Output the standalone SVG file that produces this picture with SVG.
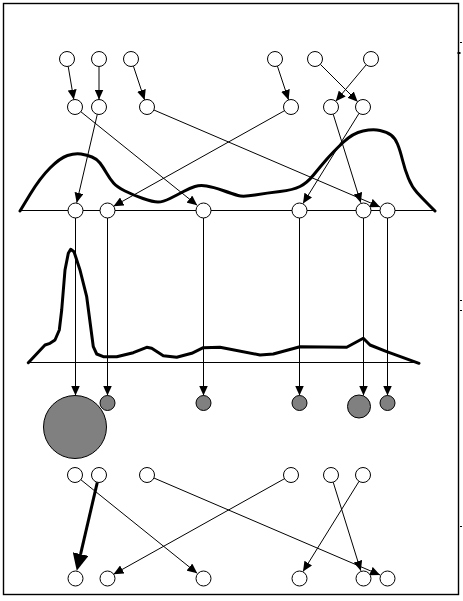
<svg xmlns="http://www.w3.org/2000/svg" width="463" height="601" viewBox="0 0 463 601">
<style>
.n{fill:#fff;stroke:#000;stroke-width:1}
.g{fill:#808080;stroke:#000;stroke-width:1}
.e{fill:none;stroke:#000;stroke-width:1;marker-end:url(#ah)}
.eb{fill:none;stroke:#000;stroke-width:3;marker-end:url(#ahb)}
.base{fill:none;stroke:#000;stroke-width:1}
.curve{fill:none;stroke:#000;stroke-width:3;stroke-linejoin:round;stroke-linecap:round}
.tick{stroke:#000;stroke-width:1}
</style>
<defs>
<marker id="ah" markerUnits="userSpaceOnUse" markerWidth="10" markerHeight="9" refX="10" refY="4.5" orient="auto"><path d="M0,0 L10,4.5 L0,9 z" fill="#000"/></marker>
<marker id="ahb" markerUnits="userSpaceOnUse" markerWidth="17" markerHeight="16" refX="0" refY="8" orient="auto"><path d="M0,0 L17,8 L0,16 z" fill="#000"/></marker>
</defs>
<rect x="3.5" y="3.5" width="455" height="591" fill="#fff" stroke="#000" stroke-width="1.4"/>
<g id="marks">
<line class="tick" x1="460" y1="42.5" x2="462" y2="42.5"/>
<rect x="457.5" y="52" width="3" height="2" fill="#000"/>
<line class="tick" x1="460" y1="300.5" x2="462" y2="300.5"/>
<line class="tick" x1="460" y1="310.5" x2="462" y2="310.5"/>
<line class="tick" x1="460" y1="526.5" x2="462" y2="526.5"/>
</g>
<g id="plots">
<line class="base" x1="20" y1="210.5" x2="435" y2="210.5"/>
<path class="curve" d="M20,211 L30,194.5 Q40,178 50,168 Q60,158 67.5,155.5 Q75,153 81,154 Q87,155 92,157 Q97,159 100,163 Q103,167 106.5,173 Q110,179 113.5,183 Q117,187 125,191 Q133,195 143,198.5 Q153,202 158,202 Q163,202 170,198.5 Q177,195 183.5,191.5 Q190,188 195,186.5 Q200,185 206.5,186 Q213,187 223,190.5 Q233,194 238,195.5 Q243,197 255,195 Q267,193 280,191.5 Q293,190 300,186.5 Q307,183 313.5,175 Q320,167 326.5,159.5 Q333,152 343,142.5 Q353,133 363,131 Q373,129 380,130.5 Q387,132 391,135 Q395,138 397.5,144 Q400,150 402.5,160 Q405,170 408.5,178.5 Q412,187 417,192.5 Q422,198 428.5,204.5 L435,211"/>
<line class="base" x1="28" y1="362.5" x2="419" y2="362.5"/>
<polyline class="curve" points="28.3,362.7 45,345 50,343.3 55,340 59.3,330 61.7,310 65,270 68.3,253.3 70.7,249.3 74,251.7 80,270 86.7,296.7 93.3,346.7 96.7,354 103.3,356.7 116.7,356.7 133.3,352.7 146.7,347.3 151.7,348.3 163.3,355.7 176.7,357.3 191.7,353.3 203.3,347.7 220,347.3 260,355 273.3,354 300,346.7 346.7,347.3 363.3,338.3 370,345 386.7,351.7 419,363.3"/>
</g>
<g id="connectors">
<line class="e" x1="68.2" y1="66.4" x2="73.8" y2="99.6"/>
<line class="e" x1="99" y1="66.5" x2="99" y2="99.5"/>
<line class="e" x1="133.4" y1="66.1" x2="144.6" y2="99.9"/>
<line class="e" x1="277.4" y1="66.1" x2="288.6" y2="99.9"/>
<line class="e" x1="320.3" y1="64.3" x2="357.7" y2="101.7"/>
<line class="e" x1="366.2" y1="64.8" x2="335.8" y2="101.2"/>
<line class="e" x1="80.8" y1="111.7" x2="197.2" y2="205.3"/>
<line class="e" x1="97.3" y1="114.3" x2="76.7" y2="202.7"/>
<line class="e" x1="153.9" y1="110" x2="380.1" y2="207"/>
<line class="e" x1="284.5" y1="110.7" x2="113.5" y2="206.3"/>
<line class="e" x1="333.2" y1="114.2" x2="360.8" y2="202.8"/>
<line class="e" x1="359" y1="113.4" x2="303" y2="203.6"/>
<line class="e" x1="75.5" y1="217.5" x2="75.5" y2="395.5"/>
<line class="e" x1="107.5" y1="217.5" x2="107.5" y2="395.5"/>
<line class="e" x1="203.5" y1="217.5" x2="203.5" y2="395.5"/>
<line class="e" x1="299.5" y1="217.5" x2="299.5" y2="395.5"/>
<line class="e" x1="363.5" y1="217.5" x2="363.5" y2="395.5"/>
<line class="e" x1="387.5" y1="217.5" x2="387.5" y2="395.5"/>
<line class="e" x1="80.8" y1="479.7" x2="197.2" y2="573.3"/>
<line class="eb" x1="97.3" y1="482.3" x2="80.6" y2="554.1"/>
<line class="e" x1="153.9" y1="478" x2="380.1" y2="575"/>
<line class="e" x1="284.5" y1="478.7" x2="113.5" y2="574.3"/>
<line class="e" x1="333.2" y1="482.2" x2="360.8" y2="570.8"/>
<line class="e" x1="359" y1="481.4" x2="303" y2="571.6"/>
</g>
<g id="a1"><circle class="n" cx="67" cy="59" r="7.5"/></g>
<g id="a2"><circle class="n" cx="99" cy="59" r="7.5"/></g>
<g id="a3"><circle class="n" cx="131" cy="59" r="7.5"/></g>
<g id="a4"><circle class="n" cx="275" cy="59" r="7.5"/></g>
<g id="a5"><circle class="n" cx="315" cy="59" r="7.5"/></g>
<g id="a6"><circle class="n" cx="371" cy="59" r="7.5"/></g>
<g id="b1"><circle class="n" cx="75" cy="107" r="7.5"/></g>
<g id="b2"><circle class="n" cx="99" cy="107" r="7.5"/></g>
<g id="b3"><circle class="n" cx="147" cy="107" r="7.5"/></g>
<g id="b4"><circle class="n" cx="291" cy="107" r="7.5"/></g>
<g id="b5"><circle class="n" cx="331" cy="107" r="7.5"/></g>
<g id="b6"><circle class="n" cx="363" cy="107" r="7.5"/></g>
<g id="c1"><circle class="n" cx="75.5" cy="210.5" r="7.5"/></g>
<g id="c2"><circle class="n" cx="107.5" cy="210.5" r="7.5"/></g>
<g id="c3"><circle class="n" cx="203.5" cy="210.5" r="7.5"/></g>
<g id="c4"><circle class="n" cx="299.5" cy="210.5" r="7.5"/></g>
<g id="c5"><circle class="n" cx="363.5" cy="210.5" r="7.5"/></g>
<g id="c6"><circle class="n" cx="387.5" cy="210.5" r="7.5"/></g>
<g id="d1"><circle class="g" cx="75" cy="427" r="31.5"/></g>
<g id="d2"><circle class="g" cx="107.5" cy="403" r="7.5"/></g>
<g id="d3"><circle class="g" cx="203.5" cy="403" r="7.5"/></g>
<g id="d4"><circle class="g" cx="299.5" cy="403" r="7.5"/></g>
<g id="d5"><circle class="g" cx="359" cy="406.5" r="11.5"/></g>
<g id="d6"><circle class="g" cx="387.5" cy="403" r="7.5"/></g>
<g id="e1"><circle class="n" cx="75" cy="475" r="7.5"/></g>
<g id="e2"><circle class="n" cx="99" cy="475" r="7.5"/></g>
<g id="e3"><circle class="n" cx="147" cy="475" r="7.5"/></g>
<g id="e4"><circle class="n" cx="291" cy="475" r="7.5"/></g>
<g id="e5"><circle class="n" cx="331" cy="475" r="7.5"/></g>
<g id="e6"><circle class="n" cx="363" cy="475" r="7.5"/></g>
<g id="f1"><circle class="n" cx="75.5" cy="578.5" r="7.5"/></g>
<g id="f2"><circle class="n" cx="107.5" cy="578.5" r="7.5"/></g>
<g id="f3"><circle class="n" cx="203.5" cy="578.5" r="7.5"/></g>
<g id="f4"><circle class="n" cx="299.5" cy="578.5" r="7.5"/></g>
<g id="f5"><circle class="n" cx="363.5" cy="578.5" r="7.5"/></g>
<g id="f6"><circle class="n" cx="387.5" cy="578.5" r="7.5"/></g>
</svg>
